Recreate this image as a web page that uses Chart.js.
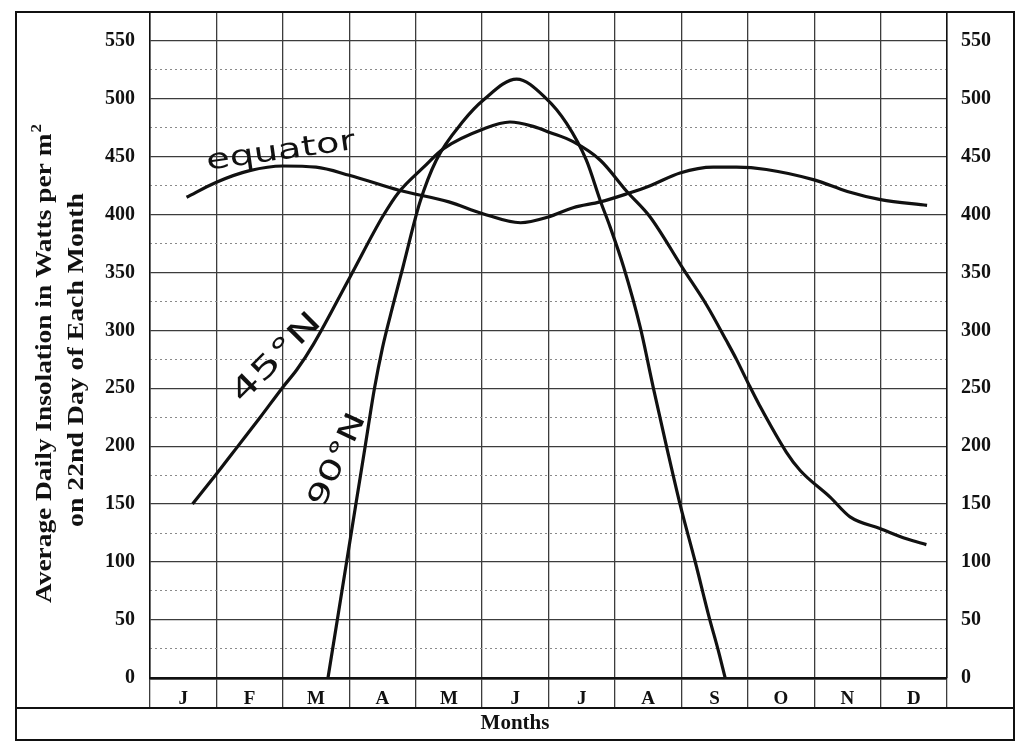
<!DOCTYPE html>
<html>
<head>
<meta charset="utf-8">
<title>Average Daily Insolation</title>
<script src="https://cdn.jsdelivr.net/npm/chart.js"></script>
<style>
  html, body { margin: 0; padding: 0; background: #fff; }
  #chart { display: block; }
</style>
</head>
<body>
<canvas id="chart" width="1024" height="750"></canvas>
<script>
'use strict';

// ── Data ──────────────────────────────────────────────────────
// x is in months: 0 = start of January, 12 = end of December
const MONTHS  = ['J', 'F', 'M', 'A', 'M', 'J', 'J', 'A', 'S', 'O', 'N', 'D'];
const Y_TICKS = [0, 50, 100, 150, 200, 250, 300, 350, 400, 450, 500, 550];
const Y_MINOR = [25, 75, 125, 175, 225, 275, 325, 375, 425, 475, 525];

const EQ_X = [0.55, 1.0, 1.5, 2.0, 2.5, 3.0, 3.75, 4.5, 5.0, 5.58, 6.0, 6.37, 6.78, 7.18, 7.53, 7.98, 8.48, 8.83, 9.28, 10.0, 10.5, 11.0, 11.7];
const EQ_Y = [415, 428, 438, 442, 441, 434, 421, 411, 401, 393, 398, 406, 411, 418, 425, 436, 441, 441, 439, 430, 420, 413, 408];

const N45_X = [0.64, 1.0, 1.31, 1.66, 2.0, 2.21, 2.46, 3.01, 3.51, 3.74, 4.12, 4.42, 5.02, 5.42, 5.78, 6.02, 6.37, 6.78, 7.18, 7.53, 8.03, 8.38, 8.68, 8.83, 9.01, 9.18, 9.58, 9.79, 10.24, 10.54, 10.99, 11.39, 11.69];
const N45_Y = [150, 176, 199, 225, 251, 266, 288, 346, 399, 419, 441, 457, 474, 480, 476, 471, 463, 447, 420, 398, 353, 322, 291, 275, 254, 235, 195, 179, 156, 139, 129, 120, 115];

const N90_X = [2.68, 2.82, 2.96, 3.10, 3.24, 3.38, 3.50, 3.66, 3.81, 4.06, 4.31, 4.72, 5.02, 5.52, 5.97, 6.27, 6.57, 6.78, 6.93, 7.13, 7.38, 7.58, 7.78, 7.98, 8.21, 8.42, 8.55, 8.66];
const N90_Y = [0, 50, 100, 150, 200, 250, 285, 322, 355, 410, 447, 481, 499, 517, 500, 479, 447, 412, 389, 355, 303, 250, 199, 150, 100, 52, 25, 0];

const Y_MIN = 0;
const Y_MAX = 575;

// ── Helpers ───────────────────────────────────────────────────
function toPoints(xs, ys) {
  return xs.map((x, i) => ({ x, y: ys[i] }));
}

const INK   = '#111';
const GRID  = '#3c3c3c';
const SERIF = '"Liberation Serif", "Times New Roman", serif';

function curve(label, xs, ys) {
  return {
    label,
    data: toPoints(xs, ys),
    borderColor: INK,
    borderWidth: 3.2,
    pointRadius: 0,
    cubicInterpolationMode: 'monotone',
    fill: false,
    xAxisID: 'x',
    yAxisID: 'y'
  };
}

// labels overhanging the plot would push the chart area in; the frame is fixed
function noPadding(s) {
  s.paddingTop = 0; s.paddingBottom = 0;
  s.paddingLeft = 0; s.paddingRight = 0;
}

// ── Hand-written labels & frame ───────────────────────────────
const HAND_LABELS = [
  { text: 'equator', month: 1.97, value: 454, angle: -8,  size: 28, width: 150 },
  { text: '45°N',    month: 1.91, value: 276, angle: -45, size: 30, width: 114 },
  { text: '90°N',    month: 2.83, value: 188, angle: -65, size: 28, width: 100 }
];

function stretchedText(ctx, text, targetWidth) {
  const w = ctx.measureText(text).width;
  ctx.scale(targetWidth / w, 1);
  ctx.fillText(text, 0, 0);
}

const framePlugin = {
  id: 'frame',
  afterDraw(chart) {
    const { ctx, scales } = chart;
    ctx.save();

    // outer box and the line above "Months"
    ctx.strokeStyle = INK;
    ctx.lineWidth = 2;
    ctx.strokeRect(16, 12, 998, 728);
    ctx.beginPath();
    ctx.moveTo(16, 708);
    ctx.lineTo(1014, 708);
    ctx.stroke();

    // y axis title, two rotated lines
    ctx.fillStyle = INK;
    ctx.textBaseline = 'alphabetic';
    ctx.textAlign = 'left';
    const main = 'Average Daily Insolation in Watts per m';
    ctx.save();
    ctx.translate(51, 364);
    ctx.rotate(-Math.PI / 2);
    ctx.font = 'bold 24px ' + SERIF;
    const w1 = ctx.measureText(main).width;
    ctx.font = 'bold 15px ' + SERIF;
    const w2 = ctx.measureText('2').width;
    const total = w1 + w2;
    ctx.scale(478 / total, 1);
    ctx.font = 'bold 24px ' + SERIF;
    ctx.fillText(main, -total / 2, 0);
    ctx.font = 'bold 15px ' + SERIF;
    ctx.fillText('2', -total / 2 + w1 + 1, -10);
    ctx.restore();

    ctx.save();
    ctx.translate(83, 360);
    ctx.rotate(-Math.PI / 2);
    ctx.font = 'bold 24px ' + SERIF;
    ctx.textAlign = 'center';
    stretchedText(ctx, 'on 22nd Day of Each Month', 334);
    ctx.restore();

    // hand-written curve names
    ctx.textAlign = 'center';
    ctx.textBaseline = 'middle';
    HAND_LABELS.forEach(l => {
      ctx.save();
      ctx.translate(scales.x.getPixelForValue(l.month), scales.y.getPixelForValue(l.value));
      ctx.rotate(l.angle * Math.PI / 180);
      ctx.font = l.size + 'px "DejaVu Sans", sans-serif';
      stretchedText(ctx, l.text, l.width);
      ctx.restore();
    });

    ctx.restore();
  }
};

// ── Chart ─────────────────────────────────────────────────────
const tickFont = { family: SERIF, size: 20, weight: 'bold' };

new Chart(document.getElementById('chart').getContext('2d'), {
  type: 'line',
  data: {
    datasets: [
      curve('equator', EQ_X, EQ_Y),
      curve('45°N', N45_X, N45_Y),
      curve('90°N', N90_X, N90_Y)
    ]
  },
  options: {
    responsive: false,
    animation: false,
    devicePixelRatio: 1,
    layout: { padding: { left: 16, right: 10, top: 12, bottom: 10 } },
    plugins: {
      legend: { display: false },
      tooltip: { enabled: false },
      title: {
        display: true,
        text: 'Months',
        position: 'bottom',
        color: INK,
        font: { family: SERIF, size: 21, weight: 'bold' },
        padding: { top: 3, bottom: 4 }
      }
    },
    scales: {
      x: {
        type: 'linear', min: 0, max: 12, display: false
      },
      xm: {
        type: 'category',
        labels: MONTHS,
        position: 'bottom',
        offset: true,
        grid: { offset: true, color: GRID, lineWidth: 1.3, tickLength: 30, tickColor: GRID, tickWidth: 1.3 },
        border: { display: true, color: INK, width: 2.5 },
        ticks: { color: INK, font: { family: SERIF, size: 19, weight: 'bold' }, padding: -20, maxRotation: 0, autoSkip: false },
        afterFit: s => { s.height = 30; noPadding(s); }
      },
      y: {
        type: 'linear', position: 'left', min: Y_MIN, max: Y_MAX,
        afterBuildTicks: s => { s.ticks = Y_TICKS.map(v => ({ value: v })); },
        grid: { color: GRID, lineWidth: c => (c.tick && c.tick.value === 0 ? 2.5 : 1.3), drawTicks: false },
        border: { display: true, color: INK, width: 1.5 },
        ticks: { color: INK, font: tickFont, padding: 15 },
        afterFit: s => { s.width = 134; noPadding(s); }
      },
      yMinor: {
        type: 'linear', position: 'left', min: Y_MIN, max: Y_MAX,
        afterBuildTicks: s => { s.ticks = Y_MINOR.map(v => ({ value: v })); },
        grid: { color: '#8a8a8a', lineWidth: 1, drawTicks: false },
        border: { display: false, dash: [2, 3] },
        ticks: { display: false },
        afterFit: s => { s.width = 0; noPadding(s); }
      },
      yR: {
        type: 'linear', position: 'right', min: Y_MIN, max: Y_MAX,
        afterBuildTicks: s => { s.ticks = Y_TICKS.map(v => ({ value: v })); },
        grid: { drawOnChartArea: false, drawTicks: false },
        border: { display: true, color: INK, width: 1.5 },
        ticks: { color: INK, font: tickFont, padding: 14 },
        afterFit: s => { s.width = 67; noPadding(s); }
      }
    }
  },
  plugins: [framePlugin]
});
</script>
</body>
</html>
